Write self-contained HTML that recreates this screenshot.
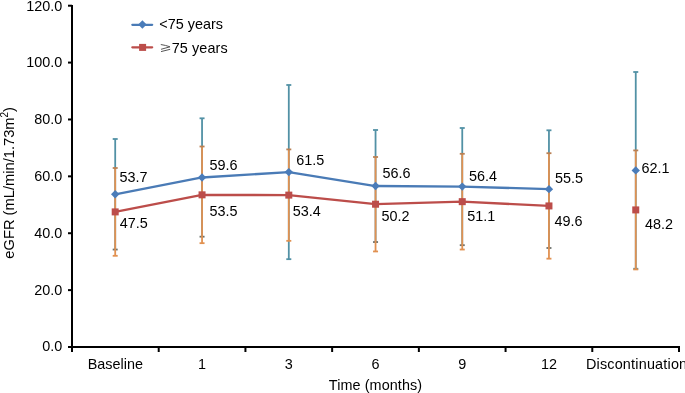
<!DOCTYPE html><html><head><meta charset="utf-8"><style>html,body{margin:0;padding:0;background:#fff;}svg{display:block;will-change:transform;}text{font-family:"Liberation Sans",sans-serif;fill:#000;}</style></head><body>
<svg width="685" height="393" viewBox="0 0 685 393">
<rect width="685" height="393" fill="#fff"/>
<g stroke="#000" stroke-width="2" fill="none">
<line x1="72" y1="5" x2="72" y2="352"/>
<line x1="71" y1="347" x2="680" y2="347"/>
<line x1="68" y1="347.00" x2="72" y2="347.00"/>
<line x1="68" y1="290.12" x2="72" y2="290.12"/>
<line x1="68" y1="233.23" x2="72" y2="233.23"/>
<line x1="68" y1="176.35" x2="72" y2="176.35"/>
<line x1="68" y1="119.47" x2="72" y2="119.47"/>
<line x1="68" y1="62.58" x2="72" y2="62.58"/>
<line x1="68" y1="5.70" x2="72" y2="5.70"/>
<line x1="158.71" y1="347" x2="158.71" y2="352"/>
<line x1="245.43" y1="347" x2="245.43" y2="352"/>
<line x1="332.14" y1="347" x2="332.14" y2="352"/>
<line x1="418.86" y1="347" x2="418.86" y2="352"/>
<line x1="505.57" y1="347" x2="505.57" y2="352"/>
<line x1="592.29" y1="347" x2="592.29" y2="352"/>
<line x1="679.00" y1="347" x2="679.00" y2="352"/>
</g>
<text x="62.3" y="351" font-size="14.4" text-anchor="end">0.0</text>
<text x="62.3" y="295" font-size="14.4" text-anchor="end">20.0</text>
<text x="62.3" y="238" font-size="14.4" text-anchor="end">40.0</text>
<text x="62.3" y="181" font-size="14.4" text-anchor="end">60.0</text>
<text x="62.3" y="124" font-size="14.4" text-anchor="end">80.0</text>
<text x="62.3" y="67" font-size="14.4" text-anchor="end">100.0</text>
<text x="62.3" y="11" font-size="14.4" text-anchor="end">120.0</text>
<text x="115.36" y="368.6" font-size="14.4" text-anchor="middle">Baseline</text>
<text x="202.07" y="368.6" font-size="14.4" text-anchor="middle">1</text>
<text x="288.79" y="368.6" font-size="14.4" text-anchor="middle">3</text>
<text x="375.50" y="368.6" font-size="14.4" text-anchor="middle">6</text>
<text x="462.21" y="368.6" font-size="14.4" text-anchor="middle">9</text>
<text x="548.93" y="368.6" font-size="14.4" text-anchor="middle">12</text>
<text x="585.9" y="368.6" font-size="14.4" letter-spacing="0.2">Discontinuation</text>
<text x="375.5" y="389.6" font-size="14.4" text-anchor="middle" letter-spacing="0.08">Time (months)</text>
<text transform="translate(13.7 182.8) rotate(-90)" font-size="14.7" text-anchor="middle">eGFR (mL/min/1.73m<tspan font-size="10" dy="-5.5">2</tspan><tspan dy="5.5">)</tspan></text>
<g stroke-width="1.8" fill="none"><line x1="115.20" y1="139.00" x2="115.20" y2="249.54" stroke="#5291a5"/><line x1="112.70" y1="139.00" x2="117.70" y2="139.00" stroke="#5291a5"/><line x1="112.70" y1="249.54" x2="117.70" y2="249.54" stroke="#6a706c"/></g>
<g stroke-width="1.8" fill="none"><line x1="202.05" y1="118.30" x2="202.05" y2="236.68" stroke="#5291a5"/><line x1="199.55" y1="118.30" x2="204.55" y2="118.30" stroke="#5291a5"/><line x1="199.55" y1="236.68" x2="204.55" y2="236.68" stroke="#6a706c"/></g>
<g stroke-width="1.8" fill="none"><line x1="288.80" y1="85.00" x2="288.80" y2="259.17" stroke="#5291a5"/><line x1="286.30" y1="85.00" x2="291.30" y2="85.00" stroke="#5291a5"/><line x1="286.30" y1="259.17" x2="291.30" y2="259.17" stroke="#5291a5"/></g>
<g stroke-width="1.8" fill="none"><line x1="375.55" y1="130.00" x2="375.55" y2="242.04" stroke="#5291a5"/><line x1="373.05" y1="130.00" x2="378.05" y2="130.00" stroke="#5291a5"/><line x1="373.05" y1="242.04" x2="378.05" y2="242.04" stroke="#6a706c"/></g>
<g stroke-width="1.8" fill="none"><line x1="462.25" y1="128.00" x2="462.25" y2="245.18" stroke="#5291a5"/><line x1="459.75" y1="128.00" x2="464.75" y2="128.00" stroke="#5291a5"/><line x1="459.75" y1="245.18" x2="464.75" y2="245.18" stroke="#6a706c"/></g>
<g stroke-width="1.8" fill="none"><line x1="548.95" y1="130.30" x2="548.95" y2="248.00" stroke="#5291a5"/><line x1="546.45" y1="130.30" x2="551.45" y2="130.30" stroke="#5291a5"/><line x1="546.45" y1="248.00" x2="551.45" y2="248.00" stroke="#6a706c"/></g>
<g stroke-width="1.8" fill="none"><line x1="635.75" y1="72.00" x2="635.75" y2="268.75" stroke="#5291a5"/><line x1="633.25" y1="72.00" x2="638.25" y2="72.00" stroke="#5291a5"/><line x1="633.25" y1="268.75" x2="638.25" y2="268.75" stroke="#5291a5"/></g>
<g stroke-width="1.8" fill="none"><line x1="115.20" y1="168.00" x2="115.20" y2="255.80" stroke="#e19151"/><line x1="112.70" y1="168.00" x2="117.70" y2="168.00" stroke="#b98054"/><line x1="112.70" y1="255.80" x2="117.70" y2="255.80" stroke="#e19151"/></g>
<g stroke-width="1.8" fill="none"><line x1="202.05" y1="146.50" x2="202.05" y2="243.17" stroke="#e19151"/><line x1="199.55" y1="146.50" x2="204.55" y2="146.50" stroke="#b98054"/><line x1="199.55" y1="243.17" x2="204.55" y2="243.17" stroke="#e19151"/></g>
<g stroke-width="1.8" fill="none"><line x1="288.80" y1="149.40" x2="288.80" y2="240.84" stroke="#e19151"/><line x1="286.30" y1="149.40" x2="291.30" y2="149.40" stroke="#b98054"/><line x1="286.30" y1="240.84" x2="291.30" y2="240.84" stroke="#e19151"/></g>
<g stroke-width="1.8" fill="none"><line x1="375.55" y1="157.00" x2="375.55" y2="251.45" stroke="#e19151"/><line x1="373.05" y1="157.00" x2="378.05" y2="157.00" stroke="#b98054"/><line x1="373.05" y1="251.45" x2="378.05" y2="251.45" stroke="#e19151"/></g>
<g stroke-width="1.8" fill="none"><line x1="462.25" y1="153.80" x2="462.25" y2="249.53" stroke="#e19151"/><line x1="459.75" y1="153.80" x2="464.75" y2="153.80" stroke="#b98054"/><line x1="459.75" y1="249.53" x2="464.75" y2="249.53" stroke="#e19151"/></g>
<g stroke-width="1.8" fill="none"><line x1="548.95" y1="153.20" x2="548.95" y2="258.66" stroke="#e19151"/><line x1="546.45" y1="153.20" x2="551.45" y2="153.20" stroke="#b98054"/><line x1="546.45" y1="258.66" x2="551.45" y2="258.66" stroke="#e19151"/></g>
<g stroke-width="1.8" fill="none"><line x1="635.75" y1="150.40" x2="635.75" y2="269.42" stroke="#e19151"/><line x1="633.25" y1="150.40" x2="638.25" y2="150.40" stroke="#b98054"/><line x1="633.25" y1="269.42" x2="638.25" y2="269.42" stroke="#e19151"/></g>
<polyline points="115.20,194.27 202.05,177.49 288.80,172.08 375.55,186.02 462.25,186.59 548.95,189.15" fill="none" stroke="#4a7bb6" stroke-width="2.3" stroke-linejoin="round"/>
<polyline points="115.20,211.90 202.05,194.84 288.80,195.12 375.55,204.22 462.25,201.66 548.95,205.93" fill="none" stroke="#bc4d4a" stroke-width="2.3" stroke-linejoin="round"/>
<path d="M115.20 190.07L119.40 194.27L115.20 198.47L111.00 194.27Z" fill="#4a7cb9"/>
<path d="M202.05 173.29L206.25 177.49L202.05 181.69L197.85 177.49Z" fill="#4a7cb9"/>
<path d="M288.80 167.88L293.00 172.08L288.80 176.28L284.60 172.08Z" fill="#4a7cb9"/>
<path d="M375.55 181.82L379.75 186.02L375.55 190.22L371.35 186.02Z" fill="#4a7cb9"/>
<path d="M462.25 182.39L466.45 186.59L462.25 190.79L458.05 186.59Z" fill="#4a7cb9"/>
<path d="M548.95 184.95L553.15 189.15L548.95 193.35L544.75 189.15Z" fill="#4a7cb9"/>
<path d="M635.75 166.18L639.95 170.38L635.75 174.58L631.55 170.38Z" fill="#4a7cb9"/>
<rect x="111.70" y="208.40" width="7.00" height="7.00" fill="#bc4d4a"/>
<rect x="198.55" y="191.34" width="7.00" height="7.00" fill="#bc4d4a"/>
<rect x="285.30" y="191.62" width="7.00" height="7.00" fill="#bc4d4a"/>
<rect x="372.05" y="200.72" width="7.00" height="7.00" fill="#bc4d4a"/>
<rect x="458.75" y="198.16" width="7.00" height="7.00" fill="#bc4d4a"/>
<rect x="545.45" y="202.43" width="7.00" height="7.00" fill="#bc4d4a"/>
<rect x="632.25" y="206.41" width="7.00" height="7.00" fill="#bc4d4a"/>
<text x="119.60" y="181.65" font-size="14.4">53.7</text>
<text x="119.85" y="227.80" font-size="14.4">47.5</text>
<text x="209.60" y="170.05" font-size="14.4">59.6</text>
<text x="209.45" y="215.55" font-size="14.4">53.5</text>
<text x="296.15" y="165.40" font-size="14.4">61.5</text>
<text x="292.85" y="215.55" font-size="14.4">53.4</text>
<text x="382.55" y="178.35" font-size="14.4">56.6</text>
<text x="381.45" y="220.70" font-size="14.4">50.2</text>
<text x="469.05" y="181.05" font-size="14.4">56.4</text>
<text x="467.20" y="220.90" font-size="14.4">51.1</text>
<text x="555.00" y="182.70" font-size="14.4">55.5</text>
<text x="554.60" y="225.70" font-size="14.4">49.6</text>
<text x="641.45" y="172.80" font-size="14.4">62.1</text>
<text x="644.90" y="228.60" font-size="14.4">48.2</text>
<line x1="132.3" y1="24.8" x2="152.2" y2="24.8" stroke="#4a7bb6" stroke-width="2.2" stroke-linecap="round"/>
<path d="M142.40 20.30L146.60 24.50L142.40 28.70L138.20 24.50Z" fill="#4a7cb9"/>
<text x="159.3" y="29" font-size="14.4">&lt;75 years</text>
<line x1="132.3" y1="47.3" x2="152.2" y2="47.3" stroke="#bc4d4a" stroke-width="2.2" stroke-linecap="round"/>
<rect x="139.10" y="43.90" width="7.00" height="7.00" fill="#bc4d4a"/>
<g stroke="#555" stroke-width="1" fill="none" stroke-linecap="round"><path d="M161.2 44.6 Q165.5 45.2 170 46.8 L161.4 49.2"/><path d="M161.4 51.5 L169.8 49.4"/></g>
<text x="171.7" y="53" font-size="14.4" letter-spacing="0.1">75 years</text>
</svg></body></html>
